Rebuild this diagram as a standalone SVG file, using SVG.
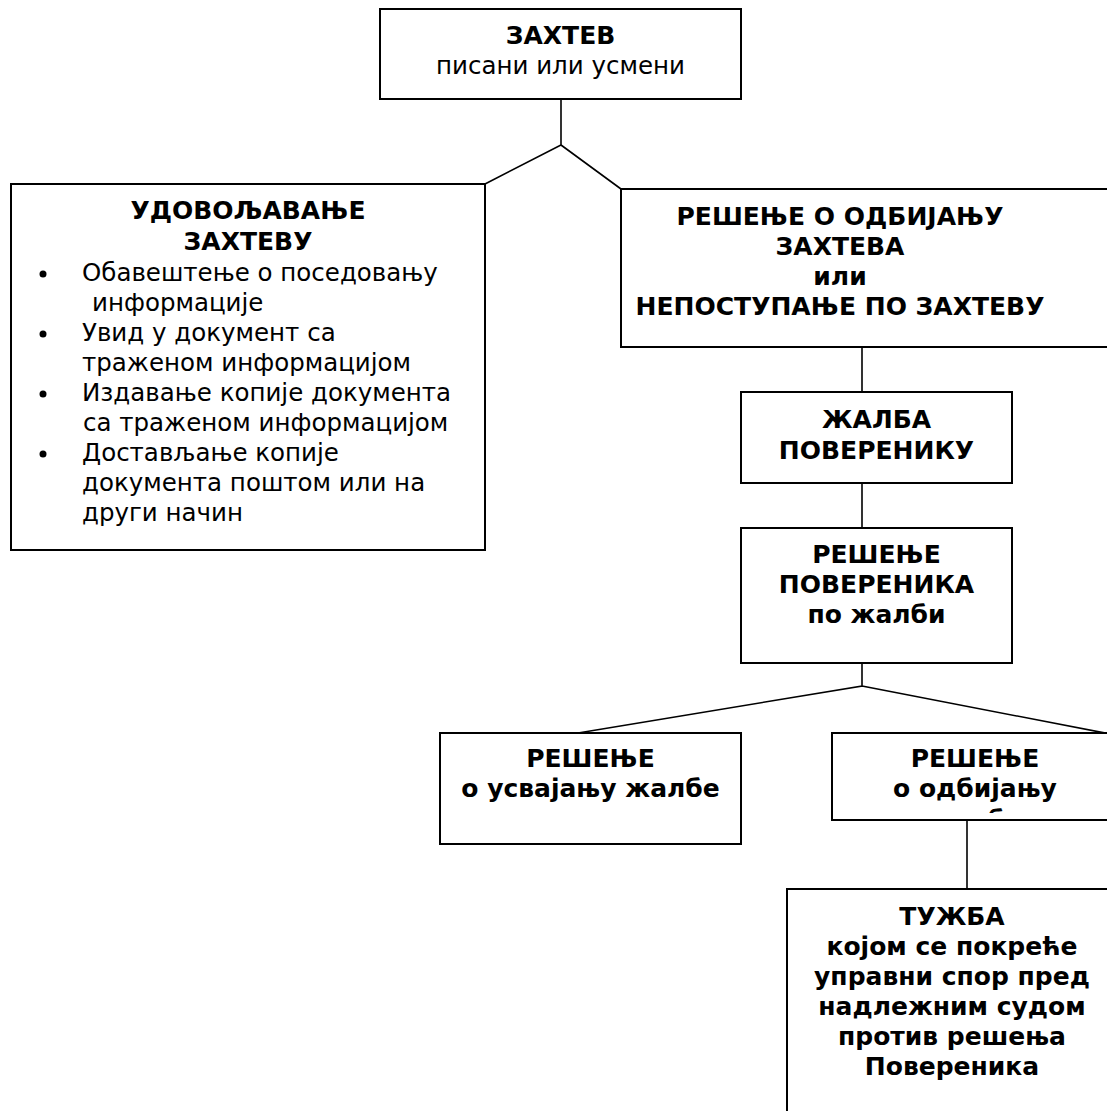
<svg xmlns="http://www.w3.org/2000/svg" width="1107" height="1111" viewBox="0 0 1107 1111">
<style>
.box{fill:#fff;stroke:#000;stroke-width:2}
.ln{fill:none;stroke:#000;stroke-width:1.6}
text{font-family:"DejaVu Sans","Liberation Sans",sans-serif;font-size:24.5px;fill:#000}
.b{font-weight:bold;font-size:25px}
.c{text-anchor:middle}
</style>
<defs>
<clipPath id="clipR"><rect x="832" y="733" width="280" height="80"/></clipPath>
</defs>
<rect width="1107" height="1111" fill="#fff"/>
<g id="connectors">
<path class="ln" d="M561,99 V145 L485,184 M561,145 L621,189"/>
<path class="ln" d="M862,347 V392 M862,483 V528 M862,663 V686 L578,733 M862,686 L1110,734"/>
<path class="ln" d="M967,820 V889"/>
</g>
<g id="n-zahtev">
<rect class="box" x="380" y="9" width="361" height="90"/>
<text class="b c" x="560.5" y="44">ЗАХТЕВ</text>
<text class="c" x="560.5" y="74">писани или усмени</text>
</g>
<g id="n-udovoljavanje">
<rect class="box" x="11" y="184" width="474" height="366"/>
<text class="b c" x="248" y="219">УДОВОЉАВАЊЕ</text>
<text class="b c" x="248" y="250">ЗАХТЕВУ</text>
<circle cx="43" cy="274" r="3.5"/>
<circle cx="43" cy="334" r="3.5"/>
<circle cx="43" cy="394" r="3.5"/>
<circle cx="43" cy="454" r="3.5"/>
<text x="82" y="281">Обавештење о поседовању</text>
<text x="92" y="311">информације</text>
<text x="82" y="341">Увид у документ са</text>
<text x="82" y="371">траженом информацијом</text>
<text x="82" y="401">Издавање копије документа</text>
<text x="83" y="431">са траженом информацијом</text>
<text x="82" y="461">Достављање копије</text>
<text x="82" y="491">документа поштом или на</text>
<text x="82" y="521">други начин</text>
</g>
<g id="n-odbijanje">
<rect class="box" x="621" y="189" width="500" height="158"/>
<text class="b c" x="840" y="225">РЕШЕЊЕ О ОДБИЈАЊУ</text>
<text class="b c" x="840" y="255">ЗАХТЕВА</text>
<text class="b c" x="840" y="285">или</text>
<text class="b c" x="840" y="315">НЕПОСТУПАЊЕ ПО ЗАХТЕВУ</text>
</g>
<g id="n-zalba">
<rect class="box" x="741" y="392" width="271" height="91"/>
<text class="b c" x="876.5" y="428">ЖАЛБА</text>
<text class="b c" x="876.5" y="459">ПОВЕРЕНИКУ</text>
</g>
<g id="n-resenje-poverenika">
<rect class="box" x="741" y="528" width="271" height="135"/>
<text class="b c" x="876.5" y="563">РЕШЕЊЕ</text>
<text class="b c" x="876.5" y="593">ПОВЕРЕНИКА</text>
<text class="b c" x="876.5" y="623">по жалби</text>
</g>
<g id="n-usvajanje">
<rect class="box" x="440" y="733" width="301" height="111"/>
<text class="b c" x="590.5" y="767">РЕШЕЊЕ</text>
<text class="b c" x="590.5" y="797">о усвајању жалбе</text>
</g>
<g id="n-odbijanje-zalbe">
<rect class="box" x="832" y="733" width="290" height="87"/>
<text class="b c" x="975" y="767">РЕШЕЊЕ</text>
<text class="b c" x="975" y="797">о одбијању</text>
<text class="b c" x="975" y="828" clip-path="url(#clipR)">жалбе</text>
</g>
<g id="n-tuzba">
<rect class="box" x="787" y="889" width="340" height="240"/>
<text class="b c" x="952" y="925">ТУЖБА</text>
<text class="b c" x="952" y="955">којом се покреће</text>
<text class="b c" x="952" y="985">управни спор пред</text>
<text class="b c" x="952" y="1015">надлежним судом</text>
<text class="b c" x="952" y="1045">против решења</text>
<text class="b c" x="952" y="1075">Повереника</text>
</g>
</svg>
